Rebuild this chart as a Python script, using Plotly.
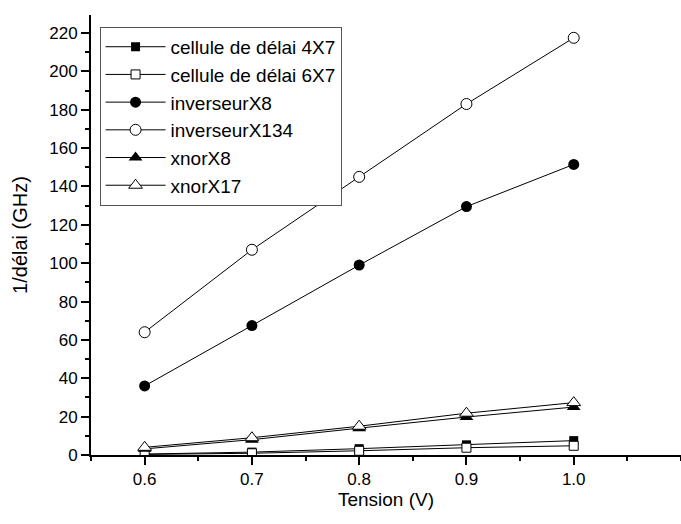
import plotly.graph_objects as go

tension = [0.6, 0.7, 0.8, 0.9, 1.0]
tension_labels = ['0.6', '0.7', '0.8', '0.9', '1.0']

cellule_4x7 = [0.5, 1.5, 3.3, 5.3, 7.5]
cellule_6x7 = [0.3, 0.9, 2.2, 3.8, 4.8]
inverseur_x8 = [36, 67.5, 99, 129.5, 151.5]
inverseur_x134 = [64, 107, 145, 183, 217.5]
xnor_x8 = [3.2, 8, 14, 19.8, 25]
xnor_x17 = [4, 9, 15, 21.8, 27.3]

series = [
    ('cellule de délai 4X7', cellule_4x7, 'square', 9),
    ('cellule de délai 6X7', cellule_6x7, 'square-open', 9),
    ('inverseurX8', inverseur_x8, 'circle', 11),
    ('inverseurX134', inverseur_x134, 'circle-open', 11),
    ('xnorX8', xnor_x8, 'triangle-up', 12),
    ('xnorX17', xnor_x17, 'triangle-up-open', 12),
]

font = 'Liberation Sans, Arial, sans-serif'
xr = [0.55, 1.1]
yr = [0, 229.4]

fig = go.Figure()
for name, vals, sym, size in series:
    # open markers get a white fill so lines don't show through
    if sym.endswith('-open'):
        marker = dict(symbol=sym.replace('-open', ''), size=size, color='white',
                      line=dict(color='black', width=1))
    else:
        marker = dict(symbol=sym, size=size, color='black', line=dict(color='black', width=0))
    fig.add_trace(go.Scatter(
        x=tension, y=vals, name=name, mode='lines+markers',
        line=dict(color='black', width=1), marker=marker,
    ))

fig.update_layout(
    width=681, height=524,
    margin=dict(l=91, r=0, t=15, b=69),
    plot_bgcolor='white', paper_bgcolor='white',
    font=dict(family=font, size=17, color='black'),
    legend=dict(
        x=0.0145, y=0.973, xanchor='left', yanchor='top',
        bordercolor='#555', borderwidth=1, bgcolor='white',
        font=dict(size=19), itemwidth=60,
    ),
    xaxis=dict(
        range=xr, tickvals=tension, ticktext=tension_labels,
        ticks='outside', ticklen=8, tickwidth=2, tickcolor='black',
        showline=True, linewidth=2, linecolor='black', showgrid=False, zeroline=False,
        minor=dict(dtick=0.05, tick0=0.6, ticks='outside', ticklen=4, tickwidth=2, tickcolor='black'),
        title=dict(text='Tension (V)', font=dict(size=19), standoff=4),
        tickfont=dict(size=17),
    ),
    yaxis=dict(
        range=yr, dtick=20, tick0=0,
        ticks='outside', ticklen=8, tickwidth=2, tickcolor='black',
        showline=True, linewidth=2, linecolor='black', showgrid=False, zeroline=False,
        minor=dict(dtick=10, ticks='outside', ticklen=4, tickwidth=2, tickcolor='black'),
        title=dict(text='1/délai (GHz)', font=dict(size=20), standoff=16),
        tickfont=dict(size=17),
    ),
    xaxis2=dict(
        range=xr, overlaying='x', anchor='y', side='top', dtick=0.1, tick0=0.6,
        ticks='inside', ticklen=8, tickwidth=2, tickcolor='black', showticklabels=False,
        showline=True, linewidth=2, linecolor='black', showgrid=False, zeroline=False,
        minor=dict(dtick=0.05, tick0=0.6, ticks='inside', ticklen=4, tickwidth=2, tickcolor='black'),
    ),
    yaxis2=dict(
        range=yr, overlaying='y', anchor='x', side='right', dtick=20, tick0=0,
        ticks='inside', ticklen=8, tickwidth=2, tickcolor='black', showticklabels=False,
        showline=False, showgrid=False, zeroline=False,
        minor=dict(dtick=10, ticks='inside', ticklen=4, tickwidth=1, tickcolor='black'),
    ),
)

fig.write_html('out.html', config={'displayModeBar': False},
               post_script="document.body.style.margin='0';")
